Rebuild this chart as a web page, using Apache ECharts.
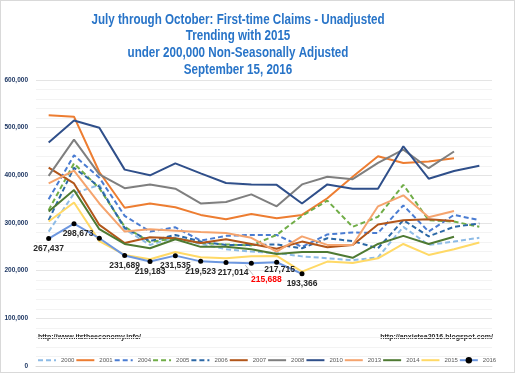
<!DOCTYPE html>
<html><head><meta charset="utf-8">
<script src="https://cdn.jsdelivr.net/npm/echarts@6/dist/echarts.min.js"></script>
<style>html,body{margin:0;padding:0;background:#fff}#c{width:515px;height:373px;box-sizing:border-box;border:1px solid #D9D9D9}</style>
</head><body><div id="c"></div>
<script>
var weeks = ['W1','W2','W3','W4','W5','W6','W7','W8','W9','W10','W11','W12','W13','W14','W15','W16','W17','W18'];
var yTicks = [0, 100000, 200000, 300000, 400000, 500000, 600000];
var titleLines = ['July through October: First-time Claims - Unadjusted','Trending with 2015','under 200,000 Non-Seasonally Adjusted','September 15, 2016'];
var years = ['2000','2001','2004','2005','2006','2007','2008','2010','2013','2014','2015','2016'];
var s2000 = [282000,362000,380000,287000,254000,270000,256000,245000,240000,237000,230000,226000,222000,228000,292000,254000,261000,269000];
var s2001 = [526000,523000,407000,332000,341000,333000,317000,308000,319000,310000,317000,352000,397000,440000,426000,429000,436000,null];
var s2004 = [350000,442000,395000,315000,282000,291000,263000,273000,275000,275000,250000,276000,280000,279000,337000,282000,317000,306000];
var s2005 = [327000,425000,373000,292000,260000,268000,258000,255000,253000,275000,315000,347000,292000,313000,380000,306000,303000,292000];
var s2006 = [306000,416000,376000,290000,262000,275000,261000,254000,254000,255000,247000,268000,262000,247000,306000,272000,292000,299000];
var s2007 = [416000,383000,296000,258000,270000,268000,258000,266000,256000,246000,261000,249000,254000,297000,306000,308000,304000,null];
var s2008 = [399000,475000,402000,373000,381000,372000,341000,344000,360000,335000,381000,397000,392000,426000,454000,415000,450000,null];
var s2010 = [469000,515000,500000,412000,400000,425000,404000,384000,381000,380000,341000,381000,372000,372000,461000,393000,409000,420000];
var s2013 = [383000,410000,341000,282000,287000,284000,281000,279000,269000,240000,272000,254000,254000,335000,358000,312000,325000,null];
var s2014 = [324000,369000,287000,256000,247000,266000,250000,250000,245000,235000,239000,239000,227000,256000,273000,256000,271000,null];
var s2015 = [303000,343000,262000,233000,224000,239000,228000,226000,230000,231000,198000,219000,216000,226000,256000,233000,245000,259000];
var s2016 = [267437,298673,268000,231689,219183,231535,219523,217014,215688,217715,193366];
var s2016Labeled = [true,true,false,true,true,true,true,true,true,true,true];
var highlightIndex = 8;

var styles = {
  '2000': {c:'#8DBBE6', d:true},
  '2001': {c:'#ED7D31', d:false},
  '2004': {c:'#4A7CD2', d:true},
  '2005': {c:'#70AD47', d:true},
  '2006': {c:'#2C68A6', d:true},
  '2007': {c:'#B2561A', d:false},
  '2008': {c:'#7F7F7F', d:false},
  '2010': {c:'#2F4F8A', d:false},
  '2013': {c:'#F5A46E', d:false},
  '2014': {c:'#4E7A32', d:false},
  '2015': {c:'#FFD966', d:false},
  '2016': {c:'#6D97DF', d:false}
};
var labelOffsets = {1:[4,0], 7:[7,0], 8:[15,6], 9:[3,-3]};
var dataMap = {'2000':s2000,'2001':s2001,'2004':s2004,'2005':s2005,'2006':s2006,'2007':s2007,'2008':s2008,'2010':s2010,'2013':s2013,'2014':s2014,'2015':s2015,'2016':s2016};
var fmt = function(v){return v.toString().replace(/\B(?=(\d{3})+(?!\d))/g, ',');};
var FONT = '"Liberation Sans",Arial,sans-serif';

var series = years.map(function(y){
  var st = styles[y];
  var s = {
    name: y, type: 'line', data: dataMap[y], symbol: 'none', smooth: false,
    lineStyle: {color: st.c, width: 2, type: st.d ? [5,3] : 'solid'},
    itemStyle: {color: st.c}, emphasis: {disabled: true}, animation: false, z: 2
  };
  if (y === '2016') {
    s.symbol = 'circle'; s.symbolSize = 5; s.z = 5;
    s.itemStyle = {color: '#000', borderWidth: 0};
    s.data = s2016.map(function(v, i){
      var item = {value: v, label: {show: s2016Labeled[i]}};
      if (labelOffsets[i]) item.label.offset = labelOffsets[i];
      if (i === highlightIndex) {
        item.label.color = '#FF0000';
      }
      return item;
    });
    s.label = {show: true, position: 'bottom', distance: 3, formatter: function(p){return fmt(p.value);},
      fontFamily: FONT, fontWeight: 'bold', fontSize: 8.5, color: '#262626'};
  }
  return s;
});

var legendData = years.map(function(y){
  return y === '2016' ? {name: y, itemStyle: {color: '#000', opacity: 1}} : {name: y, itemStyle: {opacity: 0}};
});

var chart = echarts.init(document.getElementById('c'), null, {renderer: 'canvas'});
var graphics = titleLines.map(function(t, i){
  return {type: 'text', x: 237, y: 19 + i * 16.6, scaleX: 0.83, style: {text: t, fill: '#2874C8', font: 'bold 14px ' + FONT, textAlign: 'center', textVerticalAlign: 'middle'}};
}).concat([
  {type: 'text', x: 37, y: 336, style: {text: 'http://www.itstheeconomy.info/', fill: '#262626', font: 'bold 7px ' + FONT, textAlign: 'left', textVerticalAlign: 'middle'}},
  {type: 'text', x: 492, y: 336, style: {text: 'http://anxietea2016.blogspot.com/', fill: '#262626', font: 'bold 7px ' + FONT, textAlign: 'right', textVerticalAlign: 'middle'}}
]);
chart.setOption({
  animation: false,
  grid: {left: 35, right: 22, top: 79, bottom: 6, containLabel: false},
  xAxis: {type: 'category', data: weeks, boundaryGap: true,
    axisLine: {show: true, lineStyle: {color: '#D9D9D9'}}, axisTick: {show: false}, axisLabel: {show: false}},
  yAxis: {type: 'value', min: yTicks[0], max: yTicks[yTicks.length-1], interval: 100000,
    axisLine: {show: false}, axisTick: {show: false},
    axisLabel: {formatter: function(v){return fmt(v);}, fontFamily: FONT, fontSize: 6.5, fontWeight: 'bold', color: '#1F3864', margin: 8},
    splitLine: {lineStyle: {color: '#E4E4E4', width: 1}},
    minorTick: {show: false, splitNumber: 5},
    minorSplitLine: {show: true, lineStyle: {color: '#F3F3F3', width: 1}}},
  legend: {data: legendData, left: 36, top: 356, width: 470, itemWidth: 18, itemHeight: 8, itemGap: 1, padding: 0,
    textStyle: {fontFamily: FONT, fontSize: 6, color: '#595959'}},
  graphic: graphics,
  series: series
});
// leader line for the highlighted label, anchored to the data point via the chart's own scale
var p = chart.convertToPixel({gridIndex: 0}, [highlightIndex, s2016[highlightIndex]]);
graphics.push({type: 'line', shape: {x1: p[0] - 6, y1: p[1] + 2, x2: p[0] + 2, y2: p[1] + 12}, style: {stroke: '#BFBFBF', lineWidth: 1}, z: 1});
chart.setOption({graphic: graphics});
</script></body></html>
